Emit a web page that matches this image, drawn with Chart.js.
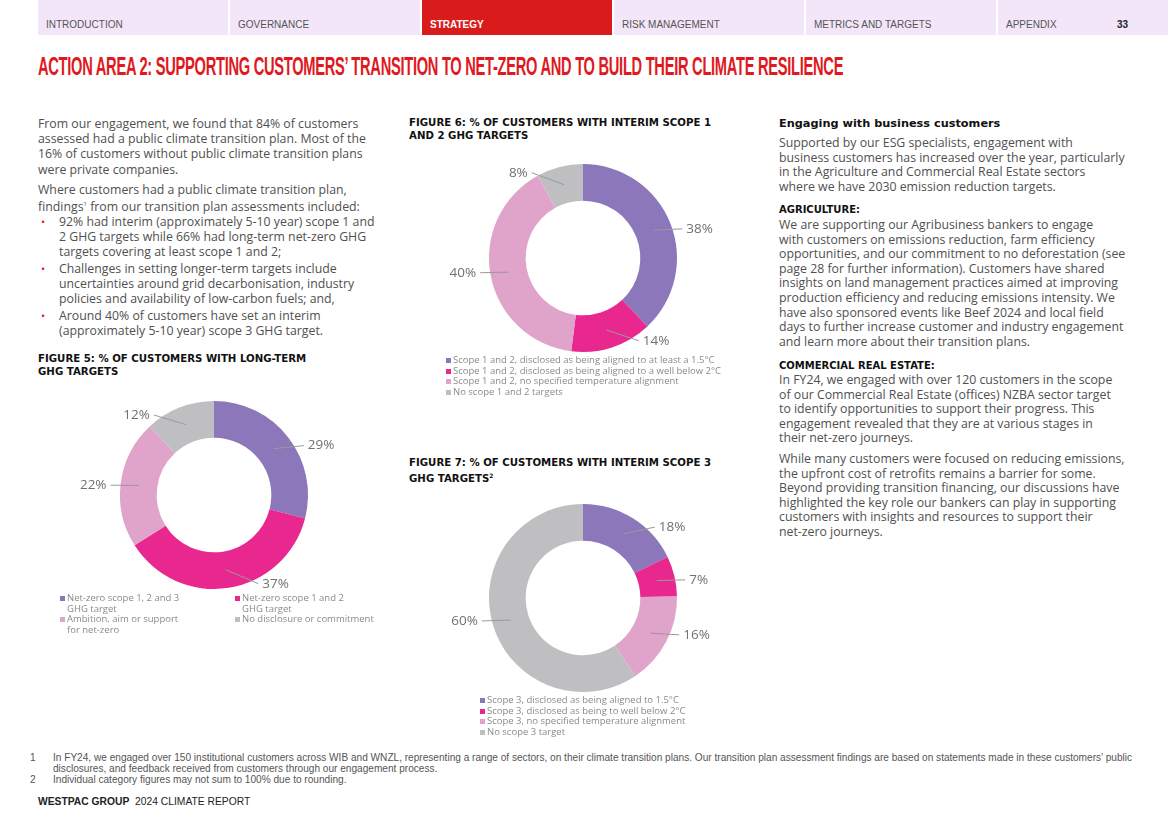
<!DOCTYPE html>
<html>
<head>
<meta charset="utf-8">
<script src="https://cdn.jsdelivr.net/npm/chart.js@4.4.1/dist/chart.umd.min.js"></script>
<style>
	body { margin: 0; width: 1168px; height: 825px; position: relative; background: #fff; font-family: "Open Sans", sans-serif; color: #4d4d4d; overflow: hidden; }
	.tab { position: absolute; top: 0; height: 35px; background: #f3e6f8; font-family: "Liberation Sans", sans-serif; font-size: 10px; color: #555; }
	.tab span { position: absolute; left: 8px; top: 19px; white-space: nowrap; }
	.tab.active { background: #d91b1b; color: #fff; font-weight: bold; }
	#title { position: absolute; left: 38px; top: 51px; font-family: "Liberation Sans", sans-serif; font-weight: bold; font-size: 26px; color: #e0191e; white-space: nowrap; transform-origin: 0 0; letter-spacing: -0.5px; }
	.txt { position: absolute; font-size: 12.3px; line-height: 15.2px; white-space: nowrap; color: #505050; }
	.bul { position: absolute; left: 41px; color: #e0191e; font-size: 11px; }
	.figtitle { position: absolute; font-family: "DejaVu Sans", sans-serif; font-weight: bold; font-size: 10.2px; line-height: 13px; color: #111; white-space: nowrap; }
	.chartbox { position: absolute; width: 320px; height: 260px; }
	.legend { position: absolute; font-size: 9.5px; color: #8a8a8a; white-space: pre-line; }
	.legend .item { position: relative; padding-left: 7px; line-height: 10.6px; }
	.legend .sq { position: absolute; left: 0; top: 3px; width: 5px; height: 5px; }
	.rt { position: absolute; left: 779px; font-size: 12.3px; line-height: 14.6px; white-space: nowrap; color: #505050; }
	.rh { position: absolute; left: 779px; font-family: "DejaVu Sans", sans-serif; font-weight: bold; color: #111; white-space: nowrap; }
	.foot { position: absolute; font-family: "Liberation Sans", sans-serif; font-size: 10.1px; color: #555; white-space: nowrap; line-height: 11px; }
</style>
</head>
<body>
	<div class="tab" style="left:38px;width:190px"><span>INTRODUCTION</span></div>
	<div class="tab" style="left:230px;width:190px"><span>GOVERNANCE</span></div>
	<div class="tab active" style="left:422px;width:190px"><span>STRATEGY</span></div>
	<div class="tab" style="left:614px;width:190px"><span>RISK MANAGEMENT</span></div>
	<div class="tab" style="left:806px;width:190px"><span>METRICS AND TARGETS</span></div>
	<div class="tab" style="left:998px;width:170px"><span>APPENDIX</span><span style="left:119px;font-weight:bold;color:#222">33</span></div>

	<div id="title">ACTION AREA 2: SUPPORTING CUSTOMERS’ TRANSITION TO NET-ZERO AND TO BUILD THEIR CLIMATE RESILIENCE</div>

	<div class="txt" style="left:38px;top:116px">From our engagement, we found that 84% of customers<br>assessed had a public climate transition plan. Most of the<br>16% of customers without public climate transition plans<br>were private companies.</div>
	<div class="txt" style="left:38px;top:182px">Where customers had a public climate transition plan,<br>findings<sup style="font-size:6px">1</sup> from our transition plan assessments included:</div>
	<div class="bul" style="top:214px">•</div>
	<div class="txt" style="left:59px;top:214px">92% had interim (approximately 5-10 year) scope 1 and<br>2 GHG targets while 66% had long-term net-zero GHG<br>targets covering at least scope 1 and 2;</div>
	<div class="bul" style="top:261px">•</div>
	<div class="txt" style="left:59px;top:261px">Challenges in setting longer-term targets include<br>uncertainties around grid decarbonisation, industry<br>policies and availability of low-carbon fuels; and,</div>
	<div class="bul" style="top:308px">•</div>
	<div class="txt" style="left:59px;top:308px">Around 40% of customers have set an interim<br>(approximately 5-10 year) scope 3 GHG target.</div>

	<div class="figtitle" style="left:38px;top:352px">FIGURE 5: % OF CUSTOMERS WITH LONG-TERM<br>GHG TARGETS</div>
	<div class="chartbox" style="left:54px;top:365px"><canvas id="fig5"></canvas></div>
	<div class="legend" id="legend5" style="left:60px;top:593px;width:360px"></div>

	<div class="figtitle" style="left:409px;top:116px">FIGURE 6: % OF CUSTOMERS WITH INTERIM SCOPE 1<br>AND 2 GHG TARGETS</div>
	<div class="chartbox" style="left:423px;top:128px"><canvas id="fig6"></canvas></div>
	<div class="legend" id="legend6" style="left:446px;top:355px"></div>

	<div class="figtitle" style="left:409px;top:456px">FIGURE 7: % OF CUSTOMERS WITH INTERIM SCOPE 3<br>GHG TARGETS<sup style="font-size:6px">2</sup></div>
	<div class="chartbox" style="left:423px;top:468px"><canvas id="fig7"></canvas></div>
	<div class="legend" id="legend7" style="left:480px;top:695px"></div>

	<div class="rh" style="top:117px;font-size:11.3px">Engaging with business customers</div>
	<div class="rt" style="top:136px">Supported by our ESG specialists, engagement with<br>business customers has increased over the year, particularly<br>in the Agriculture and Commercial Real Estate sectors<br>where we have 2030 emission reduction targets.</div>
	<div class="rh" style="top:204px;font-size:10px">AGRICULTURE:</div>
	<div class="rt" style="top:218px">We are supporting our Agribusiness bankers to engage<br>with customers on emissions reduction, farm efficiency<br>opportunities, and our commitment to no deforestation (see<br>page 28 for further information). Customers have shared<br>insights on land management practices aimed at improving<br>production efficiency and reducing emissions intensity. We<br>have also sponsored events like Beef 2024 and local field<br>days to further increase customer and industry engagement<br>and learn more about their transition plans.</div>
	<div class="rh" style="top:360px;font-size:10px">COMMERCIAL REAL ESTATE:</div>
	<div class="rt" style="top:373px">In FY24, we engaged with over 120 customers in the scope<br>of our Commercial Real Estate (offices) NZBA sector target<br>to identify opportunities to support their progress. This<br>engagement revealed that they are at various stages in<br>their net-zero journeys.</div>
	<div class="rt" style="top:452px">While many customers were focused on reducing emissions,<br>the upfront cost of retrofits remains a barrier for some.<br>Beyond providing transition financing, our discussions have<br>highlighted the key role our bankers can play in supporting<br>customers with insights and resources to support their<br>net-zero journeys.</div>

	<div class="foot" style="left:30px;top:752px">1</div>
	<div class="foot" style="left:53px;top:752px">In FY24, we engaged over 150 institutional customers across WIB and WNZL, representing a range of sectors, on their climate transition plans. Our transition plan assessment findings are based on statements made in these customers’ public<br>disclosures, and feedback received from customers through our engagement process.</div>
	<div class="foot" style="left:30px;top:774px">2</div>
	<div class="foot" style="left:53px;top:774px">Individual category figures may not sum to 100% due to rounding.</div>
	<div class="foot" style="left:38px;top:796px;font-size:10.3px;color:#222"><b>WESTPAC GROUP</b>&nbsp; 2024 CLIMATE REPORT</div>

<script>
	const sliceColors = ["#8b77b9", "#e9288f", "#e0a3c9", "#bfbfc1"];

	const fig5Labels = ["Net-zero scope 1, 2 and 3\nGHG target", "Net-zero scope 1 and 2\nGHG target", "Ambition, aim or support\nfor net-zero", "No disclosure or commitment"];
	const fig5Values = [29, 37, 22, 12];

	const fig6Labels = ["Scope 1 and 2, disclosed as being aligned to at least a 1.5°C", "Scope 1 and 2, disclosed as being aligned to a well below 2°C", "Scope 1 and 2, no specified temperature alignment", "No scope 1 and 2 targets"];
	const fig6Values = [38, 14, 40, 8];

	const fig7Labels = ["Scope 3, disclosed as being aligned to 1.5°C", "Scope 3, disclosed as being to well below 2°C", "Scope 3, no specified temperature alignment", "No scope 3 target"];
	const fig7Values = [18, 7, 16, 60];

	// squeeze the condensed title to its width in the report
	const title = document.getElementById("title");
	title.style.transform = `scaleX(${805 / title.offsetWidth})`;

	// percentage labels outside the ring, with a thin leader line
	const leaderLabels = {
		id: "leaderLabels",
		afterDatasetsDraw(chart) {
			const ctx = chart.ctx;
			const values = chart.data.datasets[0].data;
			chart.getDatasetMeta(0).data.forEach((arc, i) => {
				const { x, y, startAngle, endAngle, innerRadius, outerRadius } = arc.getProps(["x", "y", "startAngle", "endAngle", "innerRadius", "outerRadius"], true);
				const mid = (startAngle + endAngle) / 2;
				let clock = ((mid + Math.PI / 2) % (2 * Math.PI) + 2 * Math.PI) % (2 * Math.PI);
				// pull labels toward the sides, away from top and bottom
				const right = clock < Math.PI;
				const side = right ? Math.PI / 2 : Math.PI * 1.5;
				clock = side + (clock - side) * 0.8;
				const la = clock - Math.PI / 2;
				const rMid = (innerRadius + outerRadius) / 2;
				const sx = x + rMid * Math.cos(mid);
				const sy = y + rMid * Math.sin(mid);
				const ex = x + (outerRadius + 10) * Math.cos(la);
				const ey = y + (outerRadius + 4) * Math.sin(la);
				ctx.save();
				ctx.strokeStyle = "#9a9a9a";
				ctx.lineWidth = 1;
				ctx.beginPath();
				ctx.moveTo(sx, sy);
				ctx.lineTo(ex, ey);
				ctx.stroke();
				ctx.fillStyle = "#707070";
				ctx.font = "13.5px 'Open Sans'";
				ctx.textAlign = right ? "left" : "right";
				ctx.textBaseline = "middle";
				ctx.fillText(values[i] + "%", ex + (right ? 4 : -4), ey);
				ctx.restore();
			});
		},
	};

	function renderLegend(id, labels, columns) {
		const box = document.getElementById(id);
		if (columns > 1) {
			box.style.display = "grid";
			box.style.gridTemplateColumns = "175px 175px";
		}
		labels.forEach((label, i) => {
			const item = document.createElement("div");
			item.className = "item";
			item.innerHTML = `<span class="sq" style="background:${sliceColors[i]}"></span>`;
			item.appendChild(document.createTextNode(label));
			box.appendChild(item);
		});
	}

	function renderDonut(canvasId, labels, values) {
		return new Chart(document.getElementById(canvasId), {
			type: "doughnut",
			data: {
				labels: labels,
				datasets: [
					{
						data: values,
						backgroundColor: sliceColors,
						borderWidth: 0,
					},
				],
			},
			options: {
				responsive: true,
				maintainAspectRatio: false,
				animation: false,
				cutout: "61%",
				layout: {
					padding: { left: 66, right: 66, top: 36, bottom: 36 },
				},
				plugins: {
					legend: { display: false },
					tooltip: { enabled: false },
				},
			},
			plugins: [leaderLabels],
		});
	}

	renderDonut("fig5", fig5Labels, fig5Values);
	renderDonut("fig6", fig6Labels, fig6Values);
	renderDonut("fig7", fig7Labels, fig7Values);

	renderLegend("legend5", fig5Labels, 2);
	renderLegend("legend6", fig6Labels, 1);
	renderLegend("legend7", fig7Labels, 1);
</script>
</body>
</html>
